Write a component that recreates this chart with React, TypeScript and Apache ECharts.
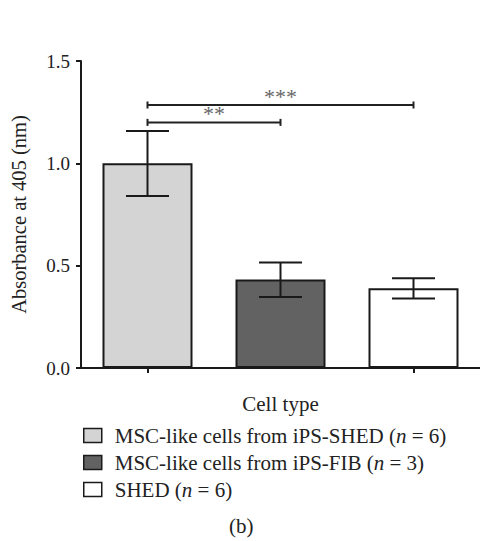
import React, { useEffect, useRef } from "react";
import * as echarts from "echarts";

const categories = ["MSC-like cells from iPS-SHED", "MSC-like cells from iPS-FIB", "SHED"];
const sampleSizes = [6, 3, 6];
const means = [1.0, 0.433, 0.39];
const errLow = [0.84, 0.347, 0.34];
const errHigh = [1.158, 0.516, 0.438];
const barColors = ["#d4d4d4", "#626262", "#ffffff"];
const yTicks = [0, 0.5, 1.0, 1.5];
const compFrom = [0, 0];
const compTo = [1, 2];
const compY = [1.2, 1.285];
const compLabels = ["**", "***"];

const FONT = "Liberation Serif";
const TXT = "#222";

export default function App() {
  const ref = useRef<HTMLDivElement>(null);
  useEffect(() => {
    if (!ref.current) return;
    const chart = echarts.init(ref.current, undefined, { renderer: "svg" });

    const barSeries = categories.map((name, i) => ({
      name,
      type: "bar",
      stack: "all",
      barWidth: 90,
      data: categories.map((_, j) => (j === i ? means[i] : "-")),
      itemStyle: { color: barColors[i], borderColor: "#1a1a1a", borderWidth: 2 },
      z: 2,
    }));

    const option: any = {
      animation: false,
      backgroundColor: "#ffffff",
      textStyle: { fontFamily: FONT },
      grid: { left: 81, top: 61, width: 402, bottom: 173, containLabel: false },
      legend: {
        orient: "vertical",
        left: 83,
        top: 425,
        padding: 0,
        icon: "rect",
        itemWidth: 18,
        itemHeight: 14,
        itemGap: 6,
        itemStyle: { borderColor: "#1a1a1a", borderWidth: 1.5 },
        data: categories,
        formatter: (name: string) => {
          const i = categories.indexOf(name);
          return `{t|${name} (}{i|n}{t| = ${sampleSizes[i]})}`;
        },
        textStyle: {
          fontFamily: FONT,
          fontSize: 21,
          color: TXT,
          padding: [0, 0, 0, 8],
          rich: {
            t: { fontFamily: FONT, fontSize: 21, color: TXT, lineHeight: 20 },
            i: { fontFamily: FONT, fontSize: 21, color: TXT, fontStyle: "italic", lineHeight: 20 },
          },
        },
      },
      xAxis: {
        type: "category",
        data: categories,
        name: "Cell type",
        nameLocation: "middle",
        nameGap: 25,
        nameTextStyle: { fontFamily: FONT, fontSize: 21, color: TXT },
        axisLine: { lineStyle: { color: "#1a1a1a", width: 2 } },
        axisTick: { show: true, alignWithLabel: true, length: 5, lineStyle: { color: "#1a1a1a", width: 2 } },
        axisLabel: { show: false },
        splitLine: { show: false },
      },
      yAxis: {
        type: "value",
        min: yTicks[0],
        max: yTicks[yTicks.length - 1],
        interval: yTicks[1] - yTicks[0],
        name: "Absorbance at 405 (nm)",
        nameLocation: "middle",
        nameGap: 52,
        nameTextStyle: { fontFamily: FONT, fontSize: 20.5, color: TXT },
        axisLine: { show: true, lineStyle: { color: "#1a1a1a", width: 2 } },
        axisTick: { show: true, length: 5, lineStyle: { color: "#1a1a1a", width: 2 } },
        axisLabel: {
          margin: 11,
          fontFamily: FONT,
          fontSize: 19,
          color: TXT,
          formatter: (v: number) => v.toFixed(1),
        },
        splitLine: { show: false },
      },
      series: [
        ...barSeries,
        {
          type: "custom",
          name: "error",
          z: 5,
          encode: { x: 0, y: [1, 2] },
          data: categories.map((_, i) => [i, errLow[i], errHigh[i]]),
          renderItem: (params: any, api: any) => {
            const x = api.value(0);
            const lo = api.coord([x, api.value(1)]);
            const hi = api.coord([x, api.value(2)]);
            const half = 21.5;
            const st = { stroke: "#1a1a1a", lineWidth: 2 };
            return {
              type: "group",
              children: [
                { type: "line", shape: { x1: lo[0], y1: lo[1], x2: hi[0], y2: hi[1] }, style: st },
                { type: "line", shape: { x1: hi[0] - half, y1: hi[1], x2: hi[0] + half, y2: hi[1] }, style: st },
                { type: "line", shape: { x1: lo[0] - half, y1: lo[1], x2: lo[0] + half, y2: lo[1] }, style: st },
              ],
            };
          },
        },
        {
          type: "custom",
          name: "sig",
          z: 5,
          encode: { x: [0, 1], y: 2 },
          data: compFrom.map((f, i) => [f, compTo[i], compY[i]]),
          renderItem: (params: any, api: any) => {
            const a = api.coord([api.value(0), api.value(2)]);
            const b = api.coord([api.value(1), api.value(2)]);
            const st = { stroke: "#222", lineWidth: 2 };
            return {
              type: "group",
              children: [
                { type: "line", shape: { x1: a[0], y1: a[1], x2: b[0], y2: b[1] }, style: st },
                { type: "line", shape: { x1: a[0], y1: a[1] - 3.5, x2: a[0], y2: a[1] + 3.5 }, style: st },
                { type: "line", shape: { x1: b[0], y1: b[1] - 3.5, x2: b[0], y2: b[1] + 3.5 }, style: st },
                {
                  type: "text",
                  x: (a[0] + b[0]) / 2,
                  y: a[1] - 8.5,
                  style: {
                    text: compLabels[params.dataIndex],
                    fill: "#666",
                    fontFamily: FONT,
                    fontSize: 22,
                    align: "center",
                    verticalAlign: "middle",
                  },
                },
              ],
            };
          },
        },
      ],
      graphic: [
        {
          type: "text",
          left: 229,
          top: 515,
          style: { text: "(b)", fontFamily: FONT, fontSize: 21, fill: TXT },
        },
      ],
    };
    chart.setOption(option);
    return () => chart.dispose();
  }, []);
  return (
    <div
      ref={ref}
      style={{ position: "fixed", left: 0, top: 0, width: 480, height: 541, background: "#fff" }}
    />
  );
}
